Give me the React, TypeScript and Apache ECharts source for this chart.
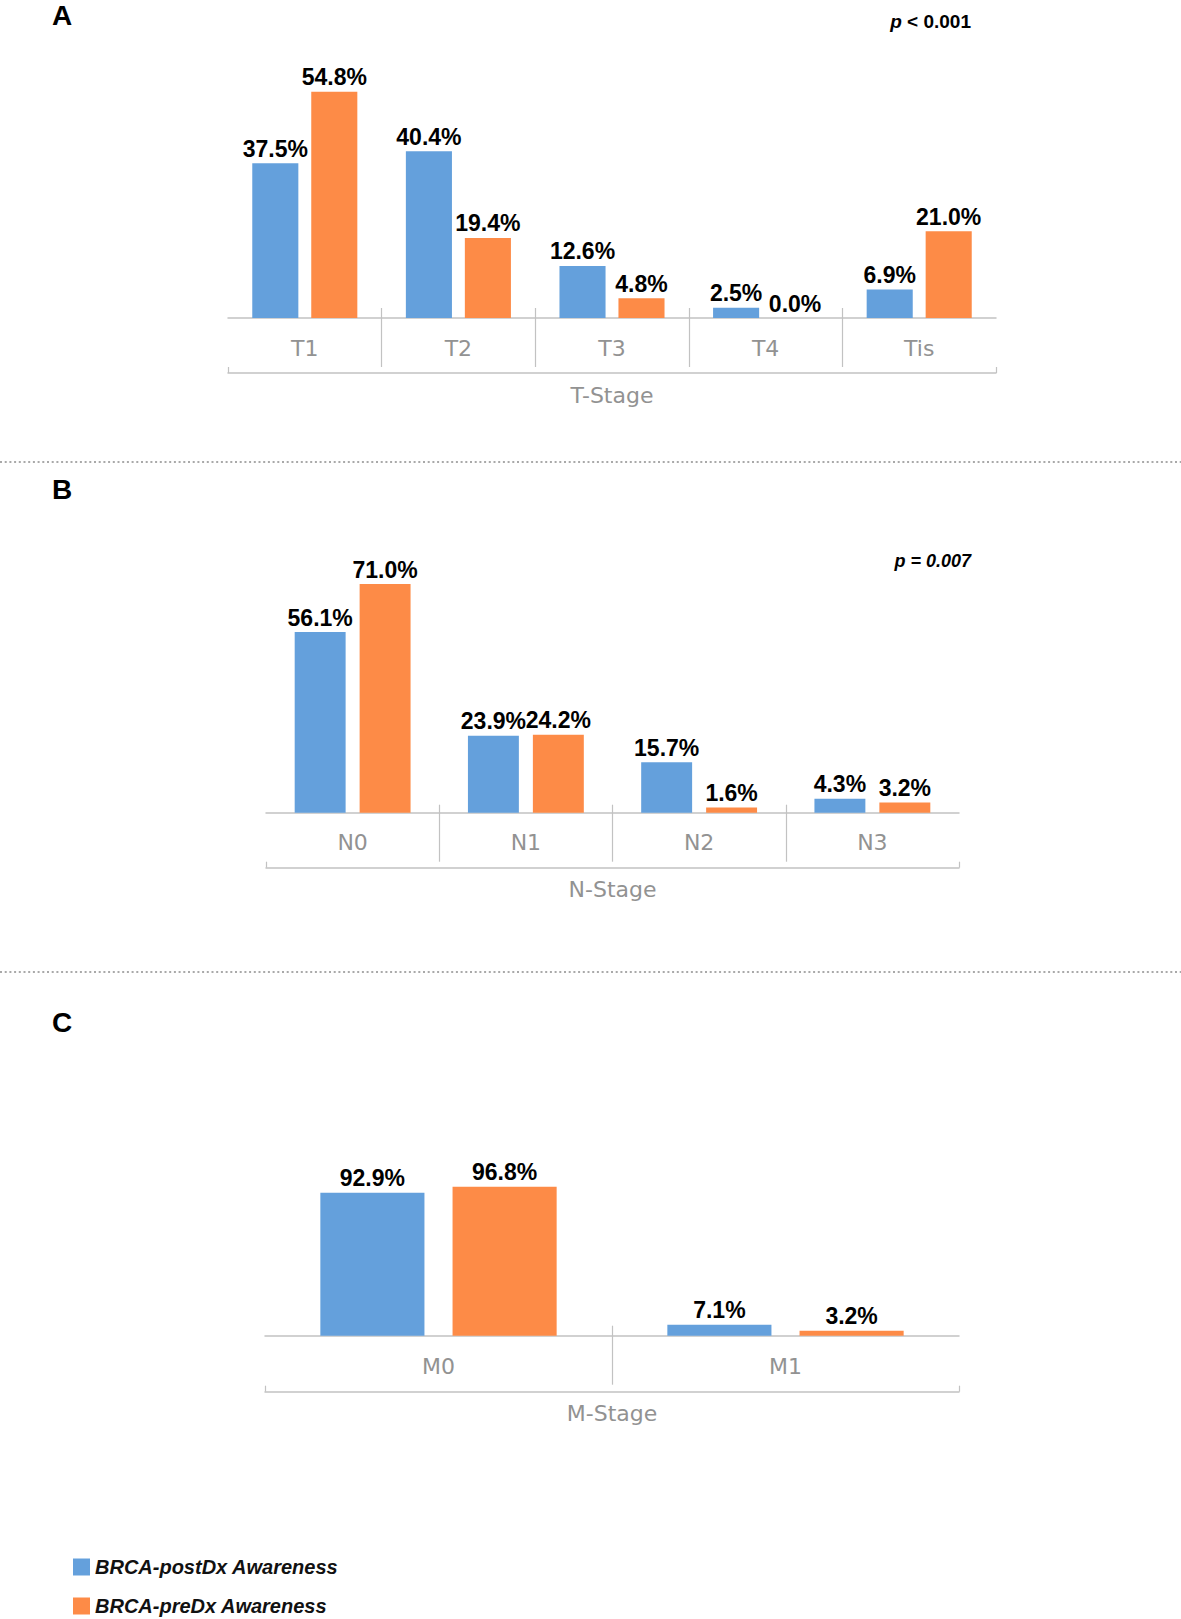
import React, { useEffect, useRef } from "react";
import * as echarts from "echarts";

// ---- data ----
const tCategories = ["T1", "T2", "T3", "T4", "Tis"];
const tPost = [37.5, 40.4, 12.6, 2.5, 6.9];
const tPre = [54.8, 19.4, 4.8, 0.0, 21.0];

const nCategories = ["N0", "N1", "N2", "N3"];
const nPost = [56.1, 23.9, 15.7, 4.3];
const nPre = [71.0, 24.2, 1.6, 3.2];

const mCategories = ["M0", "M1"];
const mPost = [92.9, 7.1];
const mPre = [96.8, 3.2];

const seriesNames = ["BRCA-postDx Awareness", "BRCA-preDx Awareness"];
const axisNames = ["T-Stage", "N-Stage", "M-Stage"];
const panelLetters = ["A", "B", "C"];

const BLUE = "#64a0dc";
const ORANGE = "#fd8b47";
const AXIS_GRAY = "#c2c2c2";
const LABEL_GRAY = "#929292";
const NUM_FONT = "'Liberation Sans', Arial, sans-serif";
const CAT_FONT = "'DejaVu Sans', 'Open Sans', sans-serif";

const panels = [
  { cats: tCategories, post: tPost, pre: tPre, left: 228, width: 768, axisY: 318, yMax: 60, pxPer: 4.13, sepOffset: -10, sepLen: 59, bracketOffset: 55, barWidth: "30%", barGap: "28%", labelMargin: 19 },
  { cats: nCategories, post: nPost, pre: nPre, left: 266, width: 693, axisY: 812.7, yMax: 80, pxPer: 3.22, sepOffset: -8, sepLen: 57, bracketOffset: 55, barWidth: "29.4%", barGap: "27.5%", labelMargin: 19 },
  { cats: mCategories, post: mPost, pre: mPre, left: 265, width: 694, axisY: 1335.7, yMax: 100, pxPer: 1.54, sepOffset: -10, sepLen: 59, bracketOffset: 56, barWidth: "30%", barGap: "27%", labelMargin: 20 },
];

function buildOption() {
  const grid: any[] = [];
  const xAxis: any[] = [];
  const yAxis: any[] = [];
  const series: any[] = [];

  panels.forEach((p, i) => {
    const h = p.yMax * p.pxPer;
    grid.push({ left: p.left, width: p.width, top: p.axisY - h, height: h, outerBoundsMode: "none", containLabel: false });
    const n = p.cats.length;
    // category axis
    xAxis.push({
      type: "category",
      gridIndex: i,
      position: "bottom",
      data: p.cats,
      axisLine: { show: true, onZero: false, lineStyle: { color: AXIS_GRAY, width: 1.5 } },
      axisTick: { show: false },
      axisLabel: { show: true, margin: p.labelMargin, color: LABEL_GRAY, fontSize: 22, fontFamily: CAT_FONT },
      splitLine: { show: false },
    });
    // separators between categories
    const sepValues: number[] = [];
    for (let k = 1; k < n; k++) sepValues.push(k);
    xAxis.push({
      type: "value",
      gridIndex: i,
      position: "bottom",
      offset: p.sepOffset,
      min: 0,
      max: n,
      interval: 1,
      axisLine: { show: false, onZero: false },
      axisTick: { show: true, customValues: sepValues, length: p.sepLen, lineStyle: { color: AXIS_GRAY, width: 1.2 } },
      axisLabel: { show: false },
      splitLine: { show: false },
    });
    // bracket with axis name
    xAxis.push({
      type: "value",
      gridIndex: i,
      position: "bottom",
      offset: p.bracketOffset,
      min: 0,
      max: n,
      interval: 1,
      name: axisNames[i],
      nameLocation: "middle",
      nameGap: 11,
      nameTextStyle: { color: LABEL_GRAY, fontSize: 22, fontFamily: CAT_FONT },
      axisLine: { show: true, onZero: false, lineStyle: { color: AXIS_GRAY, width: 1.5 } },
      axisTick: { show: true, customValues: [0, n], inside: true, length: 6, lineStyle: { color: AXIS_GRAY, width: 1.2 } },
      axisLabel: { show: false },
      splitLine: { show: false },
    });
    yAxis.push({ type: "value", gridIndex: i, min: 0, max: p.yMax, show: false, splitLine: { show: false } });

    const label = {
      show: true,
      position: "top",
      distance: 3,
      formatter: (d: any) => Number(d.value).toFixed(1) + "%",
      fontSize: 23,
      fontWeight: "bold",
      color: "#000",
      fontFamily: NUM_FONT,
    };
    [p.post, p.pre].forEach((vals, s) => {
      series.push({
        name: seriesNames[s],
        type: "bar",
        xAxisIndex: i * 3,
        yAxisIndex: i,
        data: vals,
        barWidth: p.barWidth,
        barGap: p.barGap,
        itemStyle: { color: s === 0 ? BLUE : ORANGE },
        label,
        emphasis: { disabled: true },
      });
    });
  });

  const letterY = [15, 489, 1022];
  const graphic: any[] = [];
  panelLetters.forEach((L, i) => {
    graphic.push({
      type: "text",
      style: { text: L, x: 52, y: letterY[i], verticalAlign: "middle", align: "left", font: `bold 28px ${NUM_FONT}`, fill: "#000" },
    });
  });
  [462, 972].forEach((y) => {
    graphic.push({
      type: "line",
      shape: { x1: 0, y1: y, x2: 1181, y2: y },
      style: { stroke: "#a9a9a9", lineWidth: 2, lineDash: [2, 2.7] },
    });
  });
  graphic.push({
    type: "text",
    style: {
      text: "{i|p}{b| < 0.001}",
      x: 971,
      y: 21,
      align: "right",
      verticalAlign: "middle",
      rich: {
        i: { fontStyle: "italic", fontWeight: "bold", fontSize: 19, fontFamily: NUM_FONT, fill: "#000" },
        b: { fontWeight: "bold", fontSize: 19, fontFamily: NUM_FONT, fill: "#000" },
      },
    },
  });
  graphic.push({
    type: "text",
    style: {
      text: "p = 0.007",
      x: 971,
      y: 561,
      align: "right",
      verticalAlign: "middle",
      font: `italic bold 18px ${NUM_FONT}`,
      fill: "#000",
    },
  });

  const legendCommon = {
    orient: "vertical",
    left: 73,
    itemWidth: 17,
    itemHeight: 17,
    icon: "rect",
    selectedMode: false,
    padding: 0,
    textStyle: { fontSize: 20, fontWeight: "bold", fontStyle: "italic", color: "#111", fontFamily: NUM_FONT },
  };

  return {
    animation: false,
    backgroundColor: "#ffffff",
    grid,
    xAxis,
    yAxis,
    series,
    graphic,
    legend: [
      { ...legendCommon, data: [seriesNames[0]], top: 1557 },
      { ...legendCommon, data: [seriesNames[1]], top: 1596 },
    ],
    tooltip: { show: false },
  };
}

export default function App() {
  const ref = useRef<HTMLDivElement>(null);
  useEffect(() => {
    if (!ref.current) return;
    const chart = echarts.init(ref.current, null, { renderer: "svg" });
    chart.setOption(buildOption() as any);
    return () => chart.dispose();
  }, []);
  return (
    <div
      ref={ref}
      style={{ position: "absolute", left: 0, top: 0, width: 1181, height: 1619, background: "#fff" }}
    />
  );
}
